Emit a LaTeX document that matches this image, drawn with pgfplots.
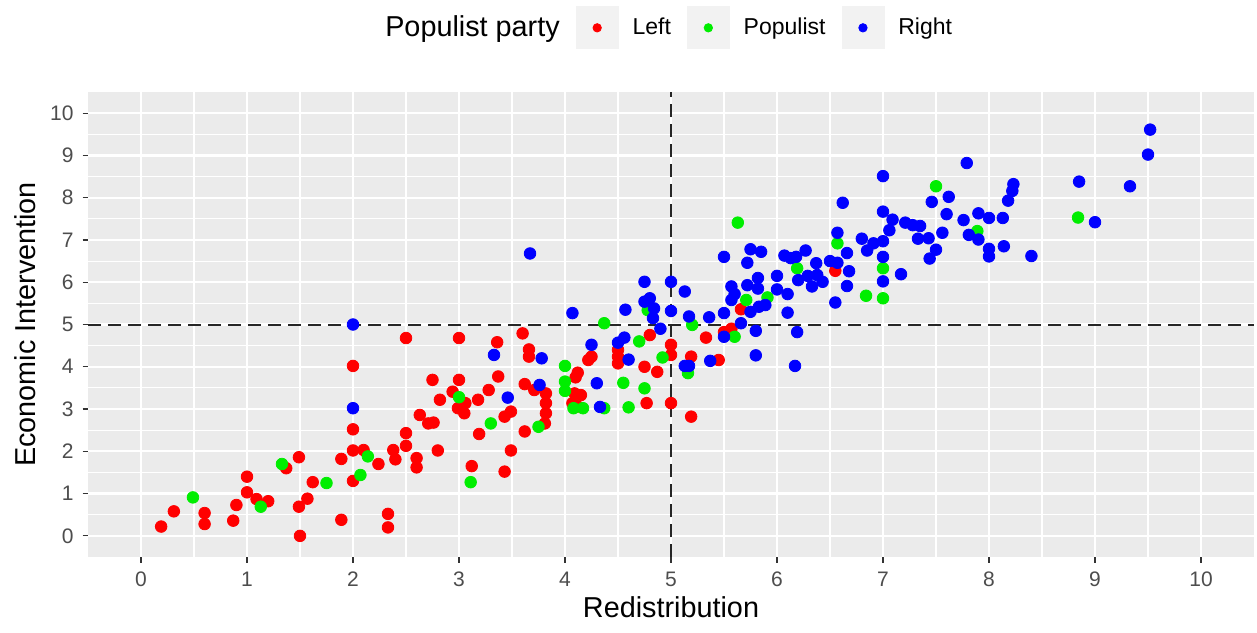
\documentclass[border=0pt]{standalone}
\usepackage{fontspec}
\setmainfont{Liberation Sans}
\usepackage{pgfplots}
\pgfplotsset{compat=1.18}
\usepackage{pgfplotstable}
\definecolor{ggbg}{HTML}{EBEBEB}
\definecolor{ggkey}{HTML}{F2F2F2}
\definecolor{ggtick}{HTML}{4D4D4D}
\definecolor{ggtickmark}{HTML}{333333}
\definecolor{pLeft}{HTML}{FF0000}
\definecolor{pPop}{HTML}{00EE00}
\definecolor{pRight}{HTML}{0000FF}

\pgfplotstableread{
x y
0.19 0.22
0.31 0.58
0.60 0.54
0.60 0.28
0.87 0.36
0.90 0.73
1.00 1.40
1.00 1.03
1.09 0.87
1.20 0.82
1.37 1.60
1.49 1.86
1.49 0.69
1.57 0.88
1.50 0.00
1.62 1.27
1.89 1.82
1.89 0.38
2.00 2.52
2.00 2.02
2.10 2.03
2.00 1.30
2.00 4.02
2.24 1.70
2.38 2.03
2.40 1.81
2.33 0.52
2.33 0.20
2.50 4.68
3.00 4.68
2.50 2.43
2.50 2.13
2.60 1.84
2.60 1.62
2.63 2.86
2.71 2.66
2.76 2.68
2.75 3.69
2.80 2.02
2.82 3.22
2.94 3.41
3.00 3.69
2.99 3.02
3.06 3.14
3.05 2.90
3.12 1.65
3.19 2.41
3.18 3.22
3.28 3.45
3.37 3.77
3.36 4.58
3.43 2.82
3.49 2.94
3.49 2.02
3.43 1.52
3.60 4.79
3.66 4.41
3.66 4.24
3.62 3.59
3.71 3.45
3.62 2.47
3.82 3.37
3.82 3.14
3.82 2.90
3.81 2.66
4.12 3.86
4.10 3.75
4.09 3.37
4.15 3.33
4.07 3.14
4.12 3.06
4.22 4.16
4.25 4.24
4.50 4.40
4.50 4.24
4.50 4.08
4.75 4.00
4.77 3.14
4.87 3.88
4.80 4.75
5.00 4.52
5.00 4.28
5.00 3.14
5.19 2.82
5.19 4.24
5.33 4.69
5.45 4.16
5.50 4.82
5.57 4.90
5.66 5.36
6.55 6.27
}\leftdata

\pgfplotstableread{
x y
0.49 0.91
1.13 0.69
1.33 1.70
1.75 1.25
2.14 1.88
2.07 1.44
3.00 3.28
3.11 1.27
3.30 2.66
3.75 2.58
4.00 4.02
4.00 3.65
4.00 3.43
4.08 3.02
4.17 3.02
4.37 3.02
4.37 5.03
4.55 3.62
4.60 3.04
4.70 4.60
4.75 3.49
4.78 5.34
4.92 4.22
5.20 4.99
5.16 3.85
5.60 4.71
5.63 7.41
5.71 5.58
5.91 5.64
6.19 6.33
6.57 6.92
6.84 5.68
7.00 6.33
7.00 5.62
7.50 8.27
7.89 7.21
8.84 7.53
}\popdata

\pgfplotstableread{
x y
2.00 5.00
2.00 3.02
3.33 4.28
3.46 3.27
3.67 6.68
3.78 4.20
3.76 3.57
4.07 5.27
4.25 4.52
4.30 3.61
4.33 3.05
4.50 4.57
4.56 4.69
4.57 5.35
4.60 4.17
4.75 6.01
4.75 5.54
4.80 5.62
4.84 5.38
4.83 5.15
4.90 4.90
5.00 6.01
5.00 5.32
5.13 5.78
5.17 5.19
5.13 4.02
5.17 4.02
5.36 5.17
5.37 4.14
5.50 6.60
5.50 5.27
5.50 4.71
5.57 5.90
5.60 5.72
5.57 5.58
5.66 5.03
5.72 6.46
5.75 6.78
5.85 6.72
5.72 5.93
5.82 6.10
5.82 5.85
5.75 5.30
5.83 5.42
5.89 5.46
5.80 4.85
5.80 4.27
6.00 6.15
6.00 5.83
6.10 5.72
6.10 5.28
6.19 4.82
6.17 4.02
6.07 6.63
6.13 6.57
6.18 6.60
6.27 6.75
6.20 6.05
6.29 6.15
6.33 5.90
6.37 6.45
6.43 6.01
6.38 6.17
6.50 6.50
6.57 6.46
6.57 7.17
6.62 7.88
6.66 6.69
6.68 6.26
6.66 5.91
6.55 5.52
6.80 7.03
6.85 6.75
6.91 6.92
7.00 6.97
7.00 8.51
7.00 7.67
7.00 6.60
7.00 6.02
7.17 6.19
7.09 7.48
7.06 7.23
7.21 7.41
7.28 7.35
7.35 7.33
7.33 7.03
7.43 7.04
7.50 6.77
7.44 6.56
7.46 7.90
7.56 7.17
7.60 7.61
7.62 8.02
7.79 8.82
7.76 7.47
7.81 7.12
7.90 7.63
7.90 7.01
8.00 7.52
8.00 6.79
8.00 6.61
8.13 7.52
8.14 6.85
8.18 7.93
8.22 8.16
8.23 8.32
8.40 6.62
8.85 8.38
9.00 7.42
9.33 8.27
9.50 9.02
9.52 9.61
}\rightdata

\begin{document}
\begin{tikzpicture}
\useasboundingbox (-44pt,-37.5pt) rectangle (584.5pt,278.5pt);
\begin{axis}[
  at={(0pt,0pt)}, anchor=south west,
  scale only axis,
  width=583pt, height=232.5pt,
  xmin=-0.5, xmax=10.5, ymin=-0.5, ymax=10.5,
  xtick={0,1,...,10}, ytick={0,1,...,10},
  xtick pos=bottom, ytick pos=left,
  minor tick num=1,
  minor tick length=0pt,
  major tick length=2.75pt,
  tick align=outside,
  tick style={color=ggtickmark, line width=0.55pt},
  axis line style={draw=none},
  axis background/.style={fill=ggbg},
  grid=both,
  major grid style={white, line width=1.1pt},
  minor grid style={white, line width=0.55pt},
  /pgf/number format/assume math mode=true,
  ticklabel style={font=\fontsize{10.5}{12}\selectfont, text=ggtick},
  xticklabel style={yshift=-1pt},
  yticklabel style={xshift=-1pt},
  xlabel={Redistribution},
  ylabel={Economic Intervention},
  label style={font=\fontsize{14.4}{17}\selectfont},
  xlabel style={at={(axis description cs:0.5,-0.108)}, anchor=center},
  ylabel style={at={(axis description cs:-0.054,0.5)}, anchor=center},
  legend style={at={(axis description cs:0.498,1.138)}, anchor=center,
    draw=none, fill=none, font=\fontsize{11.5}{13}\selectfont,
    /tikz/every even column/.append style={column sep=6pt},
    /tikz/every odd column/.append style={column sep=0pt},
    nodes={inner sep=2pt}},
  legend columns=-1,
  clip=true,
]
\addlegendimage{empty legend}
\addlegendentry{\fontsize{14.4}{17}\selectfont Populist party}
\addplot[only marks, mark=*, mark size=2.9pt, color=pLeft, mark options={draw=pLeft, fill=pLeft},
  legend image code/.code={\fill[ggkey] (0pt,-10.5pt) rectangle (21pt,10.5pt); \fill[pLeft] (10.5pt,0pt) circle (2.1pt); \path (26pt,0pt);}]
  table[x=x,y=y]{\leftdata};
\addlegendentry{Left}
\addplot[only marks, mark=*, mark size=2.9pt, color=pPop, mark options={draw=pPop, fill=pPop},
  legend image code/.code={\fill[ggkey] (0pt,-10.5pt) rectangle (21pt,10.5pt); \fill[pPop] (10.5pt,0pt) circle (2.1pt); \path (26pt,0pt);}]
  table[x=x,y=y]{\popdata};
\addlegendentry{Populist}
\addplot[only marks, mark=*, mark size=2.9pt, color=pRight, mark options={draw=pRight, fill=pRight},
  legend image code/.code={\fill[ggkey] (0pt,-10.5pt) rectangle (21pt,10.5pt); \fill[pRight] (10.5pt,0pt) circle (2.1pt); \path (26pt,0pt);}]
  table[x=x,y=y]{\rightdata};
\addlegendentry{Right}
\addplot[forget plot, black!85, line width=1pt, dash pattern=on 6.5pt off 3.5pt] coordinates {(-0.5,5) (10.5,5)};
\addplot[forget plot, black!85, line width=1pt, dash pattern=on 6.5pt off 3.5pt] coordinates {(5,-0.5) (5,10.5)};
\end{axis}
\end{tikzpicture}
\end{document}
